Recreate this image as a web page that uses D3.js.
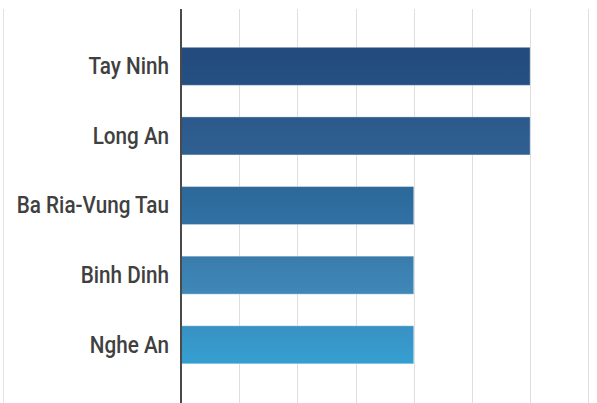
<!DOCTYPE html>
<html>
<head>
<meta charset="utf-8">
<script src="https://cdn.jsdelivr.net/npm/d3@7"></script>
<style>
  html, body { margin: 0; padding: 0; background: #fff; }
  svg { display: block; }
</style>
</head>
<body>
<svg id="chart" width="597" height="403"></svg>
<script>
// Provinces, top to bottom
const provinces = ["Tay Ninh", "Long An", "Ba Ria-Vung Tau", "Binh Dinh", "Nghe An"];
// Value per province
const values = [6, 6, 4, 4, 4];
// Gridline positions along the value axis
const gridTicks = [1, 2, 3, 4, 5, 6, 7];
// Bar fills, dark navy to light blue (top and bottom of each bar's gentle gradient)
const fillTop = ["#224a7c", "#2c598b", "#2c689a", "#397cac", "#3991c3"];
const fillBottom = ["#264f83", "#2f6092", "#3171a4", "#3f88b8", "#359fd1"];

const svg = d3.select("#chart");

const x = d3.scaleLinear().domain([0, 7]).range([181, 588.3]);
const y = d3.scaleBand()
  .domain(provinces)
  .range([31.5, 379.6])
  .paddingInner(0.454)
  .paddingOuter(0.227);

// Gradients for each bar
const defs = svg.append("defs");
provinces.forEach((p, i) => {
  const g = defs.append("linearGradient")
    .attr("id", "bar-grad-" + i)
    .attr("x1", 0).attr("y1", 0).attr("x2", 0).attr("y2", 1);
  g.append("stop").attr("offset", "0%").attr("stop-color", fillTop[i]);
  g.append("stop").attr("offset", "100%").attr("stop-color", fillBottom[i]);
});

// Left frame line
svg.append("line")
  .attr("x1", 3.5).attr("x2", 3.5)
  .attr("y1", 9).attr("y2", 403)
  .attr("stroke", "#e3e3e3").attr("stroke-width", 1);

// Vertical gridlines
svg.append("g")
  .selectAll("line")
  .data(gridTicks)
  .join("line")
  .attr("x1", d => Math.round(x(d)) + 0.5)
  .attr("x2", d => Math.round(x(d)) + 0.5)
  .attr("y1", 9).attr("y2", 403)
  .attr("stroke", "#dedede").attr("stroke-width", 1);

// Bars
svg.append("g")
  .selectAll("rect")
  .data(provinces)
  .join("rect")
  .attr("x", x(0))
  .attr("y", d => y(d))
  .attr("width", (d, i) => x(values[i]) - x(0))
  .attr("height", y.bandwidth())
  .attr("fill", (d, i) => `url(#bar-grad-${i})`)
  .attr("stroke", "#ffffff")
  .attr("stroke-opacity", 0.35)
  .attr("stroke-width", 1);

// Category axis, labels in a narrow bold face
const squeeze = 0.9;
const labelGap = 12;
const yAxis = svg.append("g")
  .attr("transform", `translate(${x(0)},0)`)
  .call(d3.axisLeft(y).tickSize(0));
yAxis.select(".domain").remove();
yAxis.selectAll("text")
  .attr("x", -labelGap / squeeze)
  .attr("dy", "0.34em")
  .attr("transform", `scale(${squeeze},1)`)
  .attr("font-family", "Roboto, 'DejaVu Sans', sans-serif")
  .attr("font-size", 23)
  .attr("font-weight", 500)
  .attr("fill", "#404040");

// Baseline
svg.append("line")
  .attr("x1", x(0)).attr("x2", x(0))
  .attr("y1", 9).attr("y2", 403)
  .attr("stroke", "#4a4a4a").attr("stroke-width", 2);
</script>
</body>
</html>
